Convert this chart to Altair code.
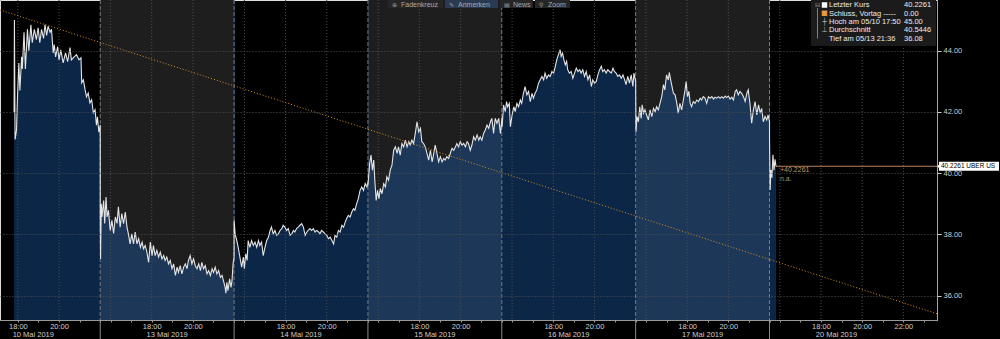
import altair as alt
import pandas as pd

FONT = "Liberation Sans"

# ---------------- data ----------------
DAYS = ["10 Mai 2019", "13 Mai 2019", "14 Mai 2019", "15 Mai 2019",
        "16 Mai 2019", "17 Mai 2019", "20 Mai 2019"]
SESSION_HOURS = 6.5          # 15:30 - 22:00 CET, overnight gaps removed

# (minutes after 15:30 CET, price USD) for each trading day
S0 = [(139, 42.00), (140, 45.00), (142, 41.10), (146, 41.40), (149, 42.50), (153, 43.60),
      (156, 42.70), (161, 43.80), (163, 43.40), (168, 44.60), (172, 43.40), (178, 44.70),
      (182, 44.00), (188, 44.85), (192, 44.26), (198, 44.70), (204, 44.36), (209, 44.75),
      (214, 44.26), (219, 44.70), (225, 44.40), (229, 44.85), (234, 44.50), (238, 44.80),
      (244, 44.60), (248, 44.70), (253, 43.93), (256, 44.20), (260, 43.80), (266, 44.13),
      (270, 43.70), (275, 44.03), (282, 43.60), (289, 43.93), (295, 43.64), (302, 44.10),
      (306, 43.70), (314, 43.80), (321, 43.87), (328, 43.70), (334, 43.77), (336, 42.95),
      (341, 43.05), (346, 42.72), (350, 42.50), (355, 42.62), (360, 42.30), (365, 42.40),
      (370, 41.97), (375, 42.07), (379, 41.57), (382, 41.84), (386, 41.34), (390, 41.57)]
S1 = [(0, 38.60), (1, 37.20), (3, 39.00), (5, 38.57), (10, 39.11), (13, 38.36), (17, 39.22),
      (20, 38.57), (24, 38.79), (29, 38.13), (34, 38.46), (39, 38.03), (44, 38.57), (49, 38.36),
      (53, 38.90), (58, 38.24), (63, 38.68), (68, 38.35), (73, 38.73), (78, 38.24), (82, 38.02),
      (87, 37.69), (92, 38.02), (97, 37.69), (102, 38.08), (107, 37.69), (112, 37.86),
      (117, 37.58), (122, 37.75), (126, 37.53), (131, 37.64), (136, 37.42), (141, 37.09),
      (146, 37.75), (151, 37.31), (155, 37.64), (160, 37.31), (165, 37.48), (170, 37.26),
      (175, 37.42), (180, 37.20), (185, 37.31), (189, 37.15), (194, 37.26), (199, 37.04),
      (204, 37.15), (209, 36.88), (214, 37.04), (219, 36.66), (224, 36.93), (228, 36.76),
      (233, 36.98), (238, 36.71), (243, 36.93), (248, 37.04), (253, 36.88), (257, 37.15),
      (262, 37.31), (267, 37.04), (272, 37.20), (277, 36.98), (282, 36.88), (287, 37.04),
      (292, 36.82), (296, 37.09), (301, 36.88), (306, 36.98), (311, 36.71), (316, 36.82),
      (321, 36.66), (326, 36.88), (330, 36.76), (335, 36.93), (340, 36.71), (345, 36.82),
      (350, 36.60), (355, 36.66), (359, 36.49), (364, 36.27), (366, 36.08), (369, 36.44),
      (372, 36.16), (377, 36.55), (381, 36.27), (384, 36.49), (387, 37.04), (390, 37.26)]
S2 = [(0, 38.46), (3, 38.02), (8, 37.80), (12, 37.58), (17, 37.26), (22, 36.93), (27, 37.26),
      (30, 36.88), (34, 37.37), (38, 37.15), (41, 37.80), (46, 37.58), (51, 37.80), (56, 37.64),
      (61, 37.75), (66, 37.58), (71, 37.80), (75, 37.64), (80, 37.75), (85, 37.31), (90, 37.58),
      (95, 37.80), (100, 37.91), (105, 38.13), (109, 38.24), (114, 38.02), (119, 38.13),
      (124, 37.97), (129, 38.02), (134, 38.13), (139, 38.19), (143, 38.30), (148, 38.24),
      (153, 38.13), (158, 38.19), (163, 37.97), (168, 38.02), (173, 38.13), (177, 38.08),
      (182, 38.19), (187, 38.24), (192, 38.30), (197, 38.35), (202, 38.24), (207, 37.97),
      (212, 38.08), (216, 38.13), (221, 38.19), (226, 38.13), (231, 38.19), (236, 38.08),
      (241, 38.13), (246, 38.08), (250, 38.02), (255, 38.13), (260, 38.08), (265, 38.02),
      (270, 37.97), (275, 37.86), (280, 37.91), (285, 37.80), (290, 37.69), (294, 37.97),
      (299, 37.91), (304, 38.13), (309, 38.08), (314, 38.30), (319, 38.24), (324, 38.41),
      (328, 38.52), (333, 38.62), (338, 38.57), (343, 38.73), (348, 38.84), (352, 38.79),
      (357, 39.00), (362, 39.17), (367, 39.44), (372, 39.55), (377, 39.44), (382, 39.66),
      (387, 39.55), (390, 39.70)]
S3 = [(0, 39.60), (2, 39.88), (5, 40.32), (9, 40.59), (13, 40.10), (17, 40.43), (20, 39.77),
      (24, 39.11), (28, 39.44), (32, 39.17), (36, 39.50), (41, 39.33), (46, 39.66), (51, 39.55),
      (55, 39.88), (60, 39.77), (65, 40.10), (70, 40.26), (75, 40.75), (80, 40.86), (85, 40.65),
      (89, 40.86), (94, 40.59), (99, 40.97), (104, 40.86), (109, 41.08), (114, 40.86),
      (119, 41.03), (123, 40.92), (128, 41.08), (133, 40.97), (138, 41.30), (143, 41.68),
      (148, 41.35), (153, 41.47), (157, 41.03), (162, 40.97), (167, 40.86), (172, 40.65),
      (177, 40.43), (182, 40.75), (187, 40.37), (191, 40.59), (196, 40.92), (201, 40.65),
      (206, 40.37), (211, 40.54), (216, 40.37), (221, 40.48), (225, 40.43), (230, 40.54),
      (235, 40.48), (240, 40.65), (245, 40.81), (250, 40.75), (255, 40.86), (259, 40.97),
      (264, 40.86), (269, 41.03), (274, 40.92), (279, 40.97), (284, 40.86), (289, 41.03),
      (293, 40.97), (298, 40.75), (303, 40.92), (308, 41.19), (313, 41.08), (318, 41.25),
      (323, 41.08), (327, 41.19), (332, 41.08), (337, 41.30), (342, 41.41), (347, 41.57),
      (352, 41.47), (357, 41.68), (361, 41.79), (366, 41.30), (371, 41.79), (376, 41.63),
      (381, 41.79), (386, 41.30), (390, 41.74)]
S4 = [(0, 41.80), (1, 41.52), (5, 42.23), (10, 42.01), (14, 42.34), (17, 42.17), (22, 42.28),
      (25, 41.52), (30, 41.90), (35, 42.17), (39, 42.01), (44, 42.28), (49, 42.17), (54, 42.39),
      (58, 42.28), (63, 42.61), (68, 42.83), (73, 42.56), (78, 42.67), (83, 42.34), (88, 42.61),
      (92, 42.45), (97, 42.61), (102, 42.72), (107, 42.94), (112, 43.05), (117, 43.16),
      (122, 43.05), (126, 43.27), (131, 43.10), (136, 43.21), (141, 43.16), (146, 43.32),
      (151, 43.27), (156, 43.49), (160, 43.70), (165, 43.87), (170, 44.03), (173, 43.81),
      (177, 43.92), (181, 43.70), (185, 43.54), (189, 43.65), (192, 43.38), (197, 43.27),
      (202, 43.32), (207, 43.10), (212, 43.27), (217, 43.43), (222, 43.32), (227, 43.38),
      (231, 43.27), (236, 43.38), (241, 43.16), (246, 43.32), (251, 43.05), (256, 43.21),
      (261, 42.83), (265, 43.05), (270, 42.94), (275, 42.99), (280, 43.21), (285, 43.38),
      (290, 43.49), (294, 43.32), (299, 43.38), (304, 43.27), (309, 43.38), (314, 43.32),
      (319, 43.27), (324, 43.43), (328, 43.32), (333, 43.27), (338, 43.16), (343, 43.21),
      (348, 43.10), (353, 43.21), (358, 43.05), (362, 42.89), (367, 43.16), (372, 42.94),
      (377, 43.21), (382, 42.83), (385, 43.27), (390, 43.00)]
S5 = [(0, 42.90), (1, 41.35), (4, 41.85), (8, 41.68), (12, 42.17), (16, 41.79), (19, 42.23),
      (23, 41.96), (27, 42.07), (32, 41.90), (37, 41.74), (42, 42.07), (47, 41.85), (52, 42.12),
      (57, 42.01), (61, 42.17), (66, 42.07), (71, 42.28), (76, 42.50), (81, 42.89), (85, 42.72),
      (90, 43.21), (95, 43.05), (98, 43.29), (102, 43.05), (106, 42.83), (110, 42.61),
      (115, 42.56), (120, 42.28), (124, 41.96), (129, 42.28), (134, 42.07), (139, 42.39),
      (144, 42.72), (147, 42.99), (151, 42.50), (155, 42.67), (159, 42.28), (163, 42.17),
      (168, 42.34), (173, 42.28), (178, 42.39), (183, 42.34), (188, 42.45), (192, 42.39),
      (197, 42.50), (202, 42.45), (207, 42.28), (212, 42.50), (217, 42.45), (222, 42.50),
      (227, 42.42), (231, 42.48), (236, 42.45), (241, 42.50), (246, 42.45), (251, 42.50),
      (256, 42.45), (261, 42.52), (265, 42.47), (270, 42.52), (275, 42.42), (280, 42.48),
      (285, 42.39), (290, 42.67), (294, 42.72), (299, 42.56), (304, 42.67), (309, 42.61),
      (314, 42.50), (319, 42.34), (324, 42.61), (328, 42.72), (333, 42.28), (338, 41.63),
      (343, 42.07), (348, 42.34), (353, 41.90), (358, 42.23), (363, 41.96), (367, 42.12),
      (372, 41.68), (377, 41.85), (382, 41.74), (386, 41.90), (390, 41.68)]
S6 = [(0, 41.10), (2, 39.45), (4, 40.10), (7, 39.85), (10, 40.60), (13, 40.10), (16, 40.45),
      (19, 40.2261)]
SESSIONS = [S0, S1, S2, S3, S4, S5, S6]

VIEW_START = (0, 98)      # 10 Mai 17:08
VIEW_END = (6, 488)       # 20 Mai 23:38
Y_DOMAIN = [35.206, 45.656]
Y_TICKS = [36, 38, 40, 42, 44]
TREND_VALUES = [45.33, 35.41]   # trend line at left / right edge of view
LAST_PRICE = 40.2261
LAST_TIME = (6, 19)
SHADED_DAYS = [1, 3, 5]
TICK_HOURS = [16, 17, 18, 19, 20, 21, 22, 23]
LABELED_HOURS = ["18:00", "20:00"]
GRID_HOURS = [16, 18, 20, 22]

LEGEND_LABELS = ["Letzter Kurs", "Schluss, Vortag -----", "Hoch am 05/10 17:50",
                 "Durchschnitt", "Tief am 05/13 21:36"]
LEGEND_VALUES = ["40.2261", "0.00", "45.00", "40.5446", "36.08"]
LEGEND_ICONS = ["", "", "\u22a4", "\u253c", "\u22a5"]
TOOLBAR = ["Fadenkreuz", "Anmerken", "News", "Zoom"]
TOOLBAR_ICONS = ["\u2295", "\u270e", "\u25a4", "\u26b2"]
TICKER = "UBER US"


def tpos(session, minute):
    return SESSION_HOURS * session + minute / 60.0


XMIN, XMAX = tpos(*VIEW_START), tpos(*VIEW_END)

rows, k = [], 0
for s, pts in enumerate(SESSIONS):
    for m, p in pts:
        rows.append({"T": tpos(s, m), "price": p, "i": k})
        k += 1
price_df = pd.DataFrame(rows)

# axis ticks (hourly) and their labels
tick_T, tick_lab = [], []
for s in range(len(DAYS)):
    last = s == len(DAYS) - 1
    for h in TICK_HOURS:
        if h == 23 and not last:
            continue
        t = SESSION_HOURS * s + (h - 15.5)
        if t < XMIN or t > XMAX:
            continue
        lab = f"{h}:00"
        tick_T.append(t)
        tick_lab.append(lab if (lab in LABELED_HOURS or (last and h == 22)) else "")
vals_js = "[" + ",".join(repr(v) for v in tick_T) + "]"
labs_js = "[" + ",".join("'" + v + "'" for v in tick_lab) + "]"
label_expr = f"indexof({vals_js}, datum.value) >= 0 ? {labs_js}[indexof({vals_js}, datum.value)] : ''"

grid_T = []
for s in range(len(DAYS)):
    for h in GRID_HOURS:
        if h == 22 and s != len(DAYS) - 1:
            continue
        t = SESSION_HOURS * s + (h - 15.5)
        if XMIN <= t <= XMAX:
            grid_T.append(t)
grid_df = pd.DataFrame({"T": grid_T})
sep_df = pd.DataFrame({"T": [SESSION_HOURS * s for s in range(1, len(DAYS))]})
shade_df = pd.DataFrame({"T0": [SESSION_HOURS * s for s in SHADED_DAYS],
                         "T1": [SESSION_HOURS * (s + 1) for s in SHADED_DAYS]})
day_df = pd.DataFrame({"T": [tpos(s, 195) for s in range(len(DAYS))], "day": DAYS})
trend_df = pd.DataFrame({"T": [XMIN, XMAX], "price": TREND_VALUES})
last_df = pd.DataFrame({"T": [tpos(*LAST_TIME)], "T_end": [XMAX], "price": [LAST_PRICE],
                        "lab": [f"+{LAST_PRICE:.4f}"], "na": ["n.a."],
                        "tag": [f"{LAST_PRICE:.4f} {TICKER}"]})
one = pd.DataFrame({"a": [0]})

# ---------------- scales / axes ----------------
W, H = 937, 320
xscale = alt.Scale(domain=[XMIN, XMAX], nice=False, zero=False)
yscale = alt.Scale(domain=Y_DOMAIN, nice=False, zero=False)
xaxis = alt.Axis(values=tick_T, labelExpr=label_expr, title=None, grid=False,
                 tickSize=2, tickColor="#9a9a9a", domainColor="#9a9a9a",
                 labelColor="#cfcfcf", labelFontSize=7.5, labelFont=FONT, labelPadding=0,
                 labelOverlap=False, labelFlush=False, labelBound=False, zindex=1)
yaxis = alt.Axis(orient="right", values=Y_TICKS, format=".2f", title=None, grid=True,
                 gridColor="#4e4e4e", gridDash=[1, 2], tickSize=4, tickColor="#cfcfcf",
                 domainColor="#a8a8a8", labelColor="#cfcfcf", labelFontSize=7.5,
                 labelFont=FONT, labelPadding=2, zindex=1)


def X(f):
    return alt.X(f, type="quantitative", scale=xscale, axis=xaxis)


def Y(f):
    return alt.Y(f, type="quantitative", scale=yscale, axis=yaxis)


layers = []
layers.append(alt.Chart(shade_df).mark_rect(color="#1e1e1e").encode(x=X("T0"), x2=alt.X2("T1")))
layers.append(alt.Chart(price_df).mark_area(color="#1a5aa8", opacity=0.42, clip=True).encode(
    x=X("T"), y=Y("price")))
layers.append(alt.Chart(grid_df).mark_rule(color="#4e4e4e", strokeDash=[1, 2]).encode(x=X("T")))
layers.append(alt.Chart(sep_df).mark_rule(color="#7a7a7a", strokeDash=[4, 2]).encode(x=X("T")))
layers.append(alt.Chart(sep_df).mark_rule(color="#8a8a8a").encode(
    x=X("T"), y=alt.value(H), y2=alt.value(H + 19)))
layers.append(alt.Chart(price_df).mark_line(color="#e4e4e4", strokeWidth=1.1).encode(
    x=X("T"), y=Y("price"), order="i:Q"))
layers.append(alt.Chart(trend_df).mark_line(color="#e0902c", strokeDash=[1, 2], strokeWidth=1).encode(
    x=X("T"), y=Y("price")))
layers.append(alt.Chart(last_df).mark_rule(color="#b8805a", strokeWidth=1).encode(
    x=X("T"), x2=alt.X2("T_end"), y=Y("price")))
layers.append(alt.Chart(last_df).mark_text(align="left", baseline="middle", dx=4, dy=4,
                                           color="#c8915a", fontSize=7, font=FONT).encode(
    x=X("T"), y=Y("price"), text="lab:N"))
layers.append(alt.Chart(last_df).mark_text(align="left", baseline="middle", dx=4, dy=13,
                                           color="#b88a60", fontSize=7, font=FONT).encode(
    x=X("T"), y=Y("price"), text="na:N"))
# price tag on the right axis
layers.append(alt.Chart(last_df).mark_rect(color="white", yOffset=-4.5, y2Offset=4.5).encode(
    x=alt.value(W + 2), x2=alt.value(W + 62), y=Y("price"), y2=alt.Y2("price")))
layers.append(alt.Chart(last_df).mark_point(shape="triangle-left", filled=True, size=14,
                                            color="white", opacity=1).encode(
    x=alt.value(W + 1), y=Y("price")))
layers.append(alt.Chart(last_df).mark_text(align="left", baseline="middle", color="black",
                                           fontSize=6.5, font=FONT).encode(
    x=alt.value(W + 4), y=Y("price"), text="tag:N"))
# day labels
layers.append(alt.Chart(day_df).mark_text(baseline="middle", color="#cfcfcf", fontSize=7.5,
                                          font=FONT).encode(
    x=X("T"), y=alt.value(H + 14.5), text="day:N"))

# legend box (top right)
layers.append(alt.Chart(one).mark_rect(color="#1b1b1b").encode(
    x=alt.value(811), x2=alt.value(W - 1), y=alt.value(0), y2=alt.value(46)))
layers.append(alt.Chart(one).mark_text(text="\u229f", color="#9a9a9a", fontSize=6, font="DejaVu Sans",
                                       baseline="middle").encode(x=alt.value(817.5), y=alt.value(4.5)))
layers.append(alt.Chart(one).mark_rule(color="#808080").encode(
    x=alt.value(817.5), y=alt.value(8), y2=alt.value(38.5)))
layers.append(alt.Chart(one).mark_square(color="white", size=30, opacity=1).encode(
    x=alt.value(824.5), y=alt.value(5)))
layers.append(alt.Chart(one).mark_square(color="#f0901e", size=30, opacity=1).encode(
    x=alt.value(824.5), y=alt.value(13.3)))
layers.append(alt.Chart(one).mark_text(text=LEGEND_ICONS, lineHeight=8.33, baseline="top",
                                       align="center", color="#bbbbbb", fontSize=7,
                                       font="DejaVu Sans").encode(x=alt.value(824.5), y=alt.value(1.2)))
layers.append(alt.Chart(one).mark_text(text=LEGEND_LABELS, lineHeight=8.33, baseline="top",
                                       align="left", color="#ececec", fontSize=7.5,
                                       font=FONT).encode(x=alt.value(829), y=alt.value(1.2)))
layers.append(alt.Chart(one).mark_text(text=LEGEND_VALUES, lineHeight=8.33, baseline="top",
                                       align="left", color="#ececec", fontSize=7.5,
                                       font=FONT).encode(x=alt.value(904), y=alt.value(1.2)))

# toolbar at the top edge
tb_left = [388, 445, 500, 535]
tb_right = [443, 498, 533, 570]
tb_fill = ["#262626", "#2a3a52", "#262626", "#262626"]
for name, icon, x0, x1, fill in zip(TOOLBAR, TOOLBAR_ICONS, tb_left, tb_right, tb_fill):
    layers.append(alt.Chart(one).mark_rect(color=fill).encode(
        x=alt.value(x0), x2=alt.value(x1), y=alt.value(0), y2=alt.value(8)))
    layers.append(alt.Chart(one).mark_text(text=icon, align="left", baseline="alphabetic",
                                           color="#9a9a9a", fontSize=6, font="DejaVu Sans").encode(
        x=alt.value(x0 + 4), y=alt.value(6.5)))
    layers.append(alt.Chart(one).mark_text(text=name, align="left", baseline="alphabetic",
                                           color="#a8a8a8", fontSize=7, font=FONT).encode(
        x=alt.value(x0 + 13), y=alt.value(6.8)))

chart = alt.layer(*layers).properties(
    width=W, height=H,
    autosize=alt.AutoSizeParams(type="none"),
    padding={"left": 0, "top": 0, "right": 63, "bottom": 19},
    background="#000000",
).configure_view(stroke=None).configure(font=FONT)

chart.save("out.html", embed_options={"renderer": "svg", "actions": False})
